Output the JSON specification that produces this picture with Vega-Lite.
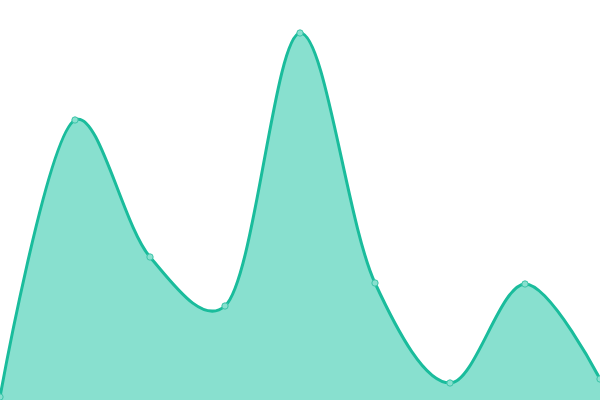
{
  "$schema": "https://vega.github.io/schema/vega-lite/v6.json",
  "width": 600,
  "height": 400,
  "padding": 0,
  "autosize": {"type": "none"},
  "background": "white",
  "data": {
    "values": [
      {"x": 0, "y": 3},
      {"x": 1, "y": 280},
      {"x": 2, "y": 143},
      {"x": 3, "y": 94},
      {"x": 4, "y": 367},
      {"x": 5, "y": 117},
      {"x": 6, "y": 17},
      {"x": 7, "y": 116},
      {"x": 8, "y": 21}
    ]
  },
  "encoding": {
    "x": {"field": "x", "type": "quantitative", "axis": null, "scale": {"domain": [0, 8], "nice": false, "zero": false}},
    "y": {"field": "y", "type": "quantitative", "axis": null, "scale": {"domain": [0, 400], "nice": false}}
  },
  "layer": [
    {
      "mark": {"type": "area", "interpolate": "catmull-rom", "tension": 0.25, "color": "#88e0cf", "opacity": 1, "line": {"color": "#1abc9c", "strokeWidth": 3, "interpolate": "catmull-rom", "tension": 0.25}}
    },
    {
      "mark": {"type": "point", "filled": true, "fill": "#88e0cf", "stroke": "#3cc4a8", "strokeWidth": 1, "size": 40, "opacity": 1}
    }
  ],
  "config": {"view": {"stroke": null}}
}
